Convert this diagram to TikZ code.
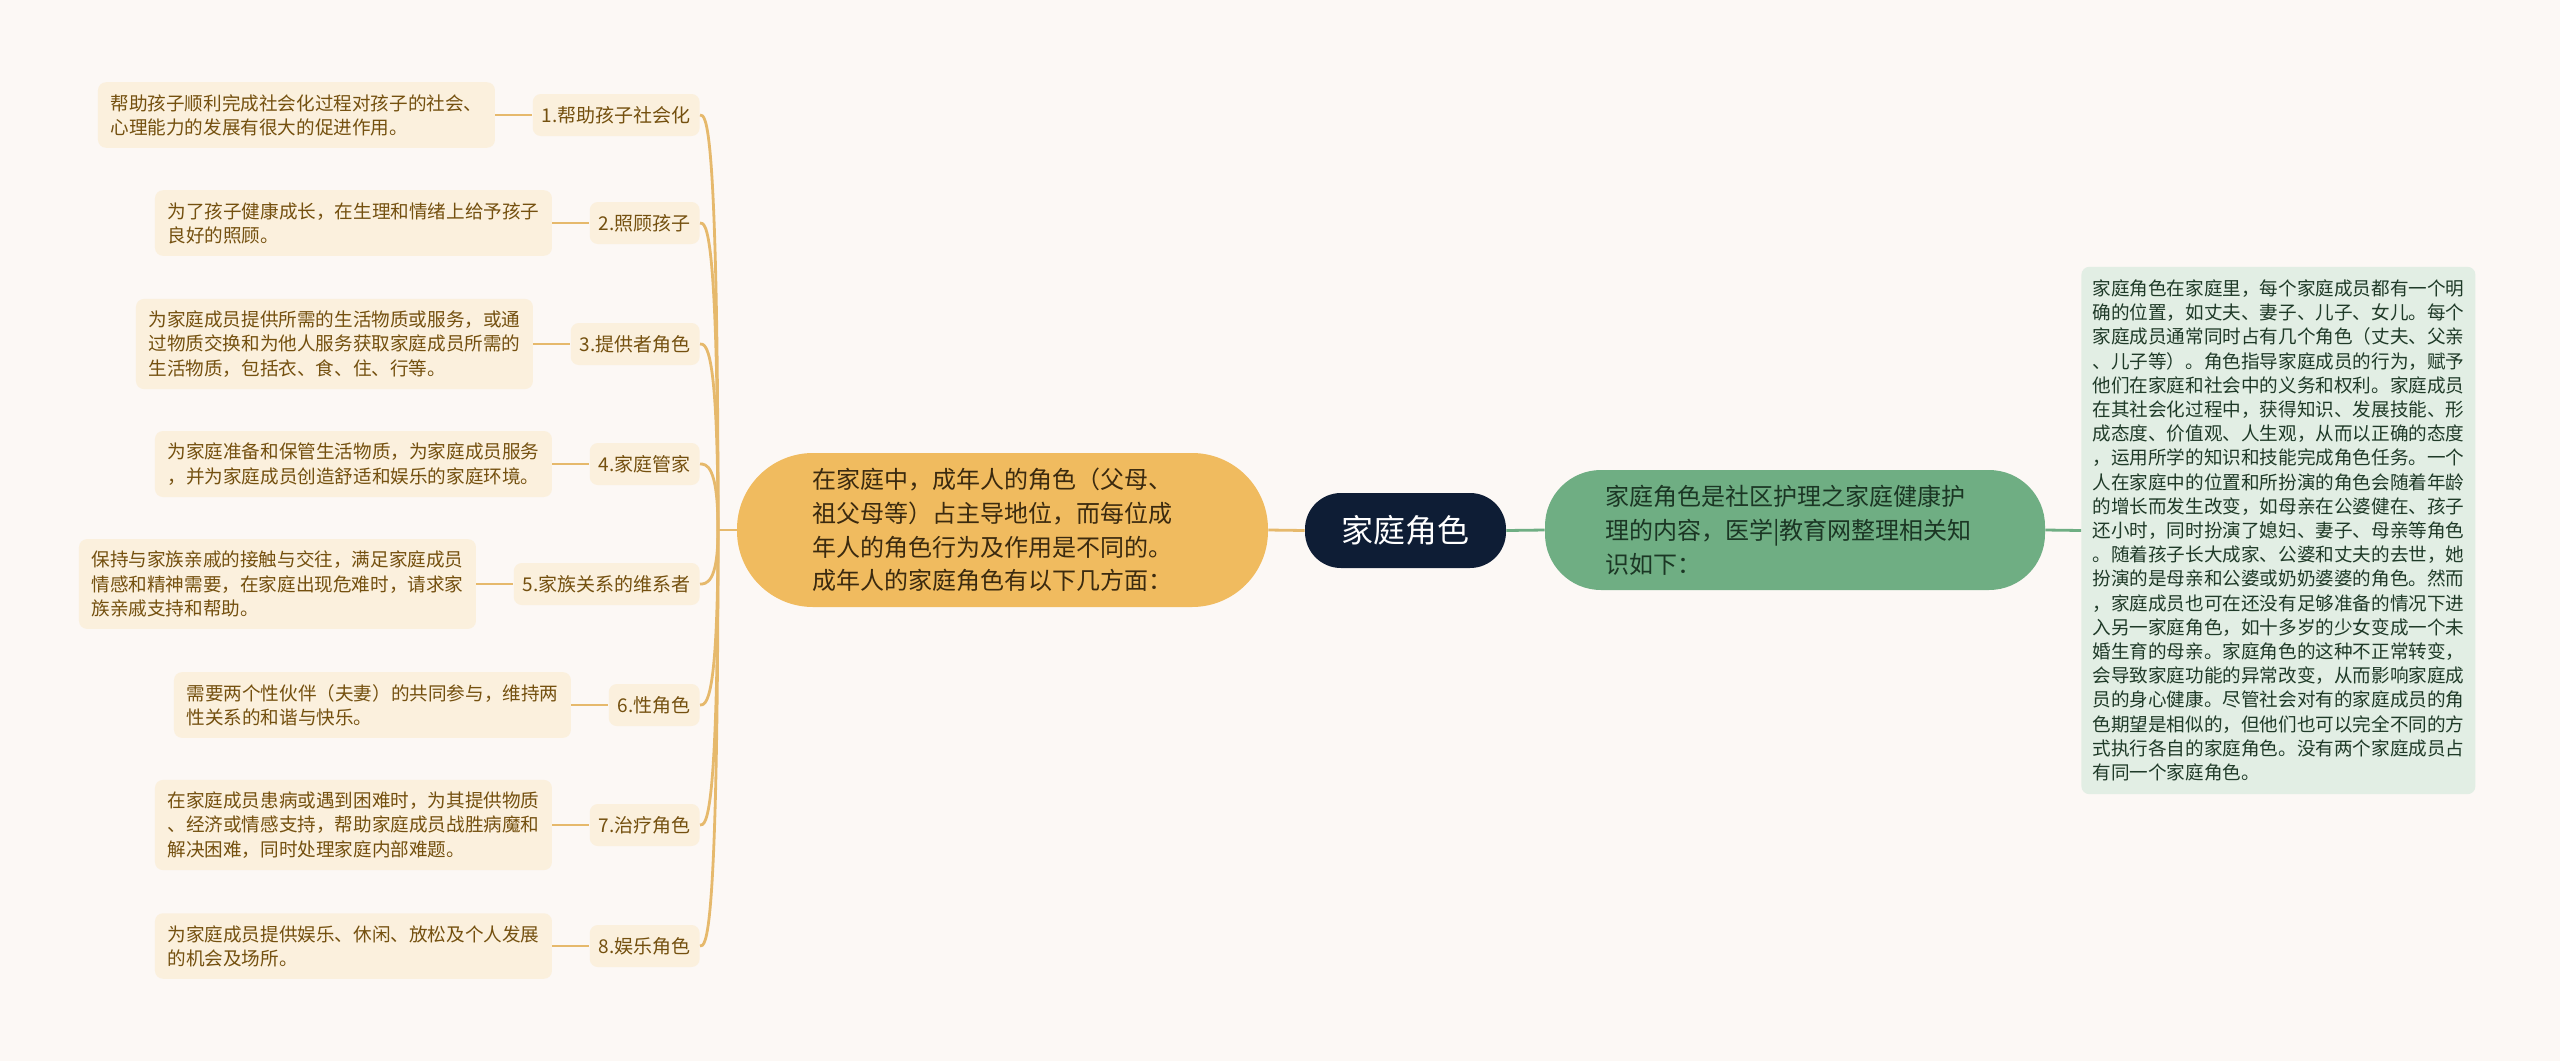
\documentclass[tikz,border=0pt]{standalone}
\usepackage{fontspec}
\setmainfont{Noto Sans CJK SC}
\definecolor{bgcol}{HTML}{FCF8F5}
\definecolor{gold}{HTML}{E6B96C}
\definecolor{descfill}{HTML}{FBF0DD}
\definecolor{desctext}{HTML}{74500F}
\definecolor{orangefill}{HTML}{F0BB5F}
\definecolor{orangetext}{HTML}{3B2A0F}
\definecolor{rootfill}{HTML}{0E1D35}
\definecolor{leaf}{HTML}{6FAE83}
\definecolor{leaftext}{HTML}{1B3624}
\definecolor{notefill}{HTML}{E2EEE4}
\definecolor{notetext}{HTML}{1F3A28}
\begin{document}
\begin{tikzpicture}[x=0.5pt,y=-0.5pt,
    goldline/.style={draw=gold,line width=1.4pt},
    greenline/.style={draw=leaf,line width=1.4pt},
    desc/.style={fill=descfill,text=desctext,rounded corners=4pt,align=left,
      inner xsep=6.25pt,inner ysep=6pt,font=\fontsize{9.3pt}{12.1pt}\selectfont},
    lab/.style={fill=descfill,text=desctext,rounded corners=4pt,inner xsep=4.5pt,
      inner ysep=0pt,minimum height=21pt,font=\fontsize{9.5pt}{12pt}\selectfont}]

      \fill[bgcol] (0,0) rectangle (2560,1061);

      \node[fill=rootfill,text=white,rounded corners=18pt,minimum width=100.5pt,
        minimum height=37.5pt,font=\fontsize{16pt}{18pt}\selectfont] (root) at (1405.5,530.5) {家庭角色};

      \node[fill=orangefill,text=orangetext,rounded corners=38pt,text width=190.5pt,inner xsep=37.5pt,
        minimum height=77pt,align=left,font=\fontsize{12pt}{16.8pt}\selectfont] (adult) at (1002.5,530)
        {在家庭中，成年人的角色（父母、\\祖父母等）占主导地位，而每位成\\年人的角色行为及作用是不同的。\\成年人的家庭角色有以下几方面：};

      \node[fill=leaf,text=leaftext,rounded corners=28pt,text width=190pt,inner xsep=30pt,
        minimum height=60pt,align=left,font=\fontsize{12pt}{17pt}\selectfont] (intro) at (1795,530)
        {家庭角色是社区护理之家庭健康护\\理的内容，医学|教育网整理相关知\\识如下：};

      \node[desc,fill=notefill,text=notetext,anchor=west,inner ysep=6.5pt,inner xsep=5.5pt] (note) at (2081,530.5)
        {家庭角色在家庭里，每个家庭成员都有一个明\\确的位置，如丈夫、妻子、儿子、女儿。每个\\家庭成员通常同时占有几个角色（丈夫、父亲\\、儿子等）。角色指导家庭成员的行为，赋予\\他们在家庭和社会中的义务和权利。家庭成员\\在其社会化过程中，获得知识、发展技能、形\\成态度、价值观、人生观，从而以正确的态度\\，运用所学的知识和技能完成角色任务。一个\\人在家庭中的位置和所扮演的角色会随着年龄\\的增长而发生改变，如母亲在公婆健在、孩子\\还小时，同时扮演了媳妇、妻子、母亲等角色\\。随着孩子长大成家、公婆和丈夫的去世，她\\扮演的是母亲和公婆或奶奶婆婆的角色。然而\\，家庭成员也可在还没有足够准备的情况下进\\入另一家庭角色，如十多岁的少女变成一个未\\婚生育的母亲。家庭角色的这种不正常转变，\\会导致家庭功能的异常改变，从而影响家庭成\\员的身心健康。尽管社会对有的家庭成员的角\\色期望是相似的，但他们也可以完全不同的方\\式执行各自的家庭角色。没有两个家庭成员占\\有同一个家庭角色。};

      \coordinate (jl) at (718,530);

      \begin{scope}[every node/.style={lab,anchor=east}]
        \node (l1) at (700,115) {1.帮助孩子社会化};
        \node (l2) at (700,223) {2.照顾孩子};
        \node (l3) at (700,344) {3.提供者角色};
        \node (l4) at (700,464) {4.家庭管家};
        \node (l5) at (700,584) {5.家族关系的维系者};
        \node (l6) at (700,705) {6.性角色};
        \node (l7) at (700,825) {7.治疗角色};
        \node (l8) at (700,946) {8.娱乐角色};
      \end{scope}

      \begin{scope}[every node/.style={desc,anchor=east}]
        \node (d1) at ([xshift=-18.5pt]l1.west) {帮助孩子顺利完成社会化过程对孩子的社会、\\心理能力的发展有很大的促进作用。};
        \node (d2) at ([xshift=-18.5pt]l2.west) {为了孩子健康成长，在生理和情绪上给予孩子\\良好的照顾。};
        \node (d3) at ([xshift=-18.5pt]l3.west) {为家庭成员提供所需的生活物质或服务，或通\\过物质交换和为他人服务获取家庭成员所需的\\生活物质，包括衣、食、住、行等。};
        \node (d4) at ([xshift=-18.5pt]l4.west) {为家庭准备和保管生活物质，为家庭成员服务\\，并为家庭成员创造舒适和娱乐的家庭环境。};
        \node (d5) at ([xshift=-18.5pt]l5.west) {保持与家族亲戚的接触与交往，满足家庭成员\\情感和精神需要，在家庭出现危难时，请求家\\族亲戚支持和帮助。};
        \node (d6) at ([xshift=-18.5pt]l6.west) {需要两个性伙伴（夫妻）的共同参与，维持两\\性关系的和谐与快乐。};
        \node (d7) at ([xshift=-18.5pt]l7.west) {在家庭成员患病或遇到困难时，为其提供物质\\、经济或情感支持，帮助家庭成员战胜病魔和\\解决困难，同时处理家庭内部难题。};
        \node (d8) at ([xshift=-18.5pt]l8.west) {为家庭成员提供娱乐、休闲、放松及个人发展\\的机会及场所。};
      \end{scope}

      \begin{scope}[every edge/.style={goldline}]
        \path (root.west) edge (adult.east);
        \path (adult.west) edge (jl);
        \foreach \i in {1,...,8} {
          \path (d\i.east) edge (l\i.west);
          \draw[goldline] (jl) .. controls (jl |- l\i.east) and ([xshift=3pt]l\i.east) .. (l\i.east);
        }
      \end{scope}

      \begin{scope}[every edge/.style={greenline}]
        \path (root.east) edge (intro.west);
        \path (intro.east) edge (note.west);
      \end{scope}

    \end{tikzpicture}
\end{document}
